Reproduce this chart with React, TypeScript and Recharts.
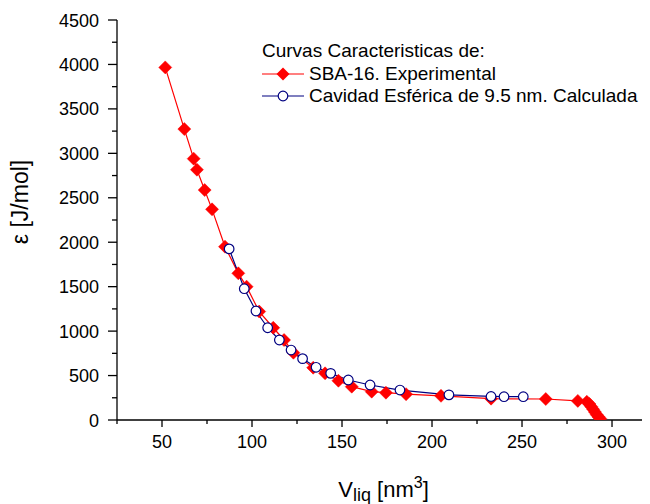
import React from 'react';
import { LineChart, Line, XAxis, YAxis, Legend } from 'recharts';

const redV = [51.8, 62.4, 67.6, 69.4, 73.7, 77.8, 85.0, 92.4, 97.0, 104.0, 111.8, 117.8, 123.0, 134.0, 140.6, 148.0, 155.4, 166.5, 174.4, 185.6, 205.0, 232.8, 263.2, 281.0, 286.0, 287.5, 288.5, 289.5, 290.5, 291.5, 292.5, 293.5];
const redE = [3967, 3273, 2940, 2816, 2587, 2370, 1950, 1650, 1500, 1220, 1038, 900, 757, 588, 525, 442, 375, 319, 307, 290, 272, 240, 236, 215, 205, 180, 150, 120, 90, 60, 35, 15];

const blueV = [87.3, 95.7, 102.2, 108.7, 115.2, 121.7, 128.1, 135.6, 143.7, 153.5, 165.6, 182.2, 209.4, 232.8, 240.0, 250.7];
const blueE = [1925, 1477, 1226, 1038, 900, 787, 690, 593, 525, 450, 394, 337, 283, 265, 262, 262];

const xTicks = [25, 50, 75, 100, 125, 150, 175, 200, 225, 250, 275, 300];
const yTicks = [0, 250, 500, 750, 1000, 1250, 1500, 1750, 2000, 2250, 2500, 2750, 3000, 3250, 3500, 3750, 4000, 4250, 4500];

const legendTitle = 'Curvas Caracteristicas de:';
const redName = 'SBA-16. Experimental';
const blueName = 'Cavidad Esférica de 9.5 nm. Calculada';

const redData = redV.map((v, i) => ({ v, e: redE[i] }));
const blueData = blueV.map((v, i) => ({ v, e: blueE[i] }));

const FONT = '"Liberation Sans", Arial, Helvetica, sans-serif';
const RED = '#ff0000';
const BLUE = '#000080';

const XTick = (props: any) => {
  const { x, y, payload } = props;
  const val = payload.value;
  const major = val % 50 === 0;
  return (
    <g>
      <line x1={x} y1={y} x2={x} y2={y + (major ? 7 : 4)} stroke="#000" strokeWidth={1.3} />
      {major && val !== 25 ? (
        <text x={x} y={y + 28} textAnchor="middle" fontSize={18} fontFamily={FONT} fill="#000">{val}</text>
      ) : null}
    </g>
  );
};

const YTick = (props: any) => {
  const { x, y, payload } = props;
  const val = payload.value;
  const major = val % 500 === 0;
  return (
    <g>
      <line x1={x} y1={y} x2={x - (major ? 9 : 5)} y2={y} stroke="#000" strokeWidth={1.3} />
      {major ? (
        <text x={x - 18} y={y + 6.5} textAnchor="end" fontSize={18} fontFamily={FONT} fill="#000">{val}</text>
      ) : null}
    </g>
  );
};

const Diamond = (props: any) => {
  const { cx, cy, index } = props;
  if (cx == null || cy == null) return <g key={`d${index}`} />;
  const r = 6.5;
  return (
    <path key={`d${index}`} d={`M${cx},${cy - r}L${cx + r},${cy}L${cx},${cy + r}L${cx - r},${cy}Z`} fill={RED} stroke={RED} strokeWidth={0.5} />
  );
};

const Circle = (props: any) => {
  const { cx, cy, index } = props;
  if (cx == null || cy == null) return <g key={`c${index}`} />;
  return <circle key={`c${index}`} cx={cx} cy={cy} r={4.8} fill="#fff" stroke={BLUE} strokeWidth={1.2} />;
};

const XTitle = (props: any) => {
  const vb = props.viewBox || {};
  const cx = vb.x + vb.width / 2;
  const by = vb.y + 77;
  return (
    <text x={cx} y={by} textAnchor="middle" fontFamily={FONT} fontSize={22} fill="#000">
      <tspan>V</tspan>
      <tspan dy={3.5} fontSize={18}>liq</tspan>
      <tspan dy={-3.5}> [nm</tspan>
      <tspan dy={-9} fontSize={16}>3</tspan>
      <tspan dy={9}>]</tspan>
    </text>
  );
};

const YTitle = (props: any) => {
  const vb = props.viewBox || {};
  const x = 12;
  const y = vb.y + vb.height / 2 - 18;
  return (
    <text x={x} y={y} transform={`rotate(-90 ${x} ${y})`} textAnchor="middle" dominantBaseline="central" fontFamily={FONT} fontSize={23} fill="#000">
      ε [J/mol]
    </text>
  );
};

const LegendContent = () => (
  <div style={{ fontFamily: FONT, fontSize: 19, color: '#000', lineHeight: '22.5px', whiteSpace: 'nowrap' }}>
    <div>{legendTitle}</div>
    <div style={{ display: 'flex', alignItems: 'center', height: 22.5 }}>
      <svg width={47} height={22} style={{ display: 'block', flexShrink: 0 }}>
        <line x1={0} y1={11} x2={42} y2={11} stroke={RED} strokeWidth={1.2} />
        <path d="M21,4.5L27.5,11L21,17.5L14.5,11Z" fill={RED} />
      </svg>
      <span>{redName}</span>
    </div>
    <div style={{ display: 'flex', alignItems: 'center', height: 22.5 }}>
      <svg width={47} height={22} style={{ display: 'block', flexShrink: 0 }}>
        <line x1={0} y1={11} x2={42} y2={11} stroke={BLUE} strokeWidth={1.2} />
        <circle cx={21} cy={11} r={4.8} fill="#fff" stroke={BLUE} strokeWidth={1.2} />
      </svg>
      <span>{blueName}</span>
    </div>
  </div>
);

export default function App() {
  return (
    <LineChart width={642} height={496} margin={{ top: 12, right: 0, left: 49, bottom: 24 }}>
      <XAxis
        type="number"
        dataKey="v"
        domain={[25, 321.1]}
        ticks={xTicks}
        interval={0}
        allowDataOverflow
        tickSize={0}
        tickMargin={0}
        tick={<XTick />}
        height={60}
        axisLine={{ stroke: '#000', strokeWidth: 1.3 }}
        label={<XTitle />}
      />
      <YAxis
        type="number"
        dataKey="e"
        domain={[0, 4500]}
        ticks={yTicks}
        interval={0}
        allowDataOverflow
        tickSize={0}
        tickMargin={0}
        tick={<YTick />}
        width={60}
        axisLine={{ stroke: '#000', strokeWidth: 1.3 }}
        label={<YTitle />}
      />
      <Legend
        layout="horizontal"
        verticalAlign="middle"
        align="center"
        content={<LegendContent />}
        wrapperStyle={{ position: 'absolute', left: 254, top: 32, width: 'auto', height: 'auto' }}
      />
      <Line data={redData} dataKey="e" stroke={RED} strokeWidth={1.2} dot={<Diamond />} activeDot={false} isAnimationActive={false} name={redName} />
      <Line data={blueData} dataKey="e" stroke={BLUE} strokeWidth={1.2} dot={<Circle />} activeDot={false} isAnimationActive={false} name={blueName} />
    </LineChart>
  );
}
